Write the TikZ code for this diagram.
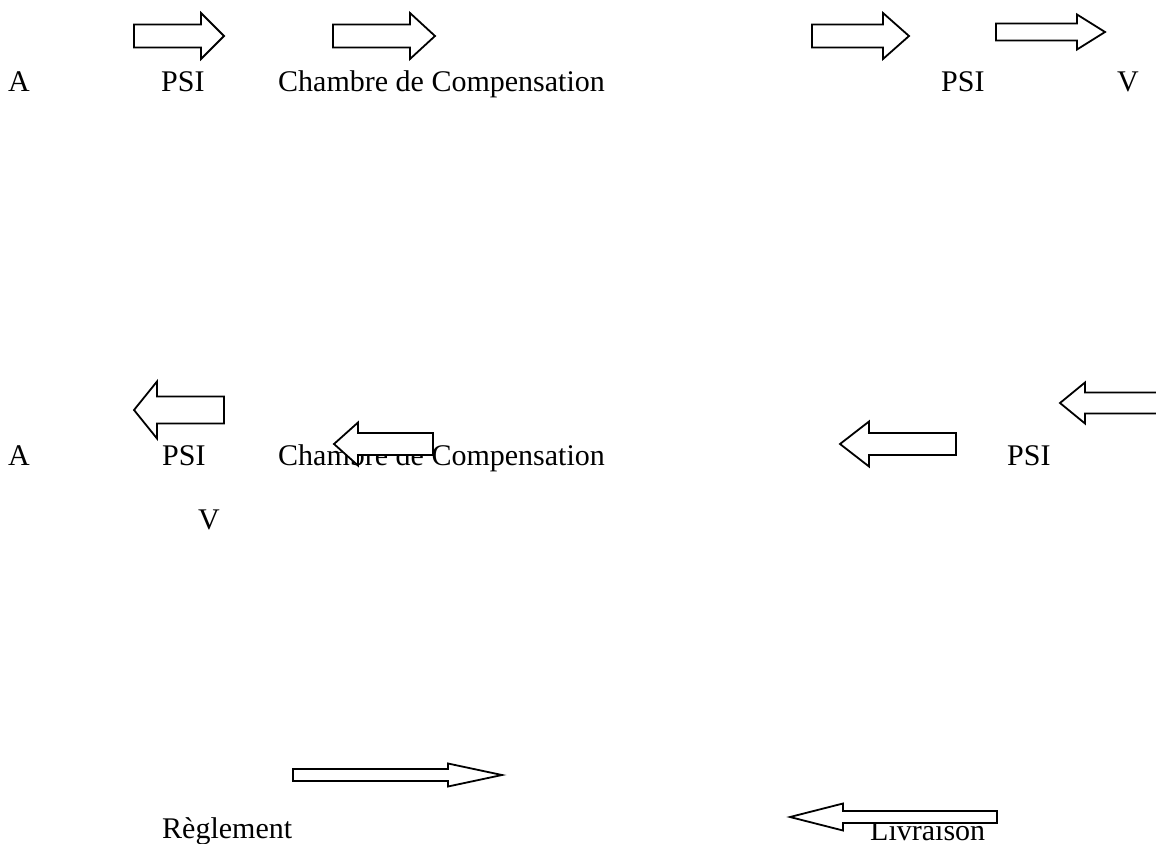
\documentclass[tikz,border=0pt]{standalone}
\usepackage{fontspec}
\setmainfont{Liberation Serif}
\usepackage{tikz}

\begin{document}
\begin{tikzpicture}[x=1pt, y=-1pt,
    txt/.style={anchor=base west, inner sep=0pt, font=\fontsize{30}{36}\selectfont},
    blockarrow/.style={draw, fill=white, line width=1.8pt, line join=miter}]
  \clip (0,0) rectangle (1156,843);
  \fill[white] (0,0) rectangle (1156,843);
  % first line
  \node[txt] (a1) at (8,91) {A};
  \node[txt] (psi1) at (161,91) {PSI};
  \node[txt] (chambre1) at (278,91) {Chambre de Compensation};
  \node[txt] (psi2) at (941,91) {PSI};
  \node[txt] (v1) at (1117,91) {V};
  % second line
  \node[txt] (a2) at (8,465) {A};
  \node[txt] (psi3) at (162,465) {PSI};
  \node[txt] (chambre2) at (278,465) {Chambre de Compensation};
  \node[txt] (psi4) at (1007,465) {PSI};
  \node[txt] (v2) at (198,529) {V};
  % third line
  \node[txt] (reglement) at (162,838) {Règlement};
  \node[txt] (livraison) at (870,840) {Livraison};
  % tail/head base/tip/middle/half body/half head
  \foreach \a/\b/\c/\m/\h/\H in {134/201/224/36/11.5/23, 333/410/435/36/11.5/23,
                                  812/883/909/36/11.5/23, 996/1077/1105/32/8.5/17.5,
                                  224/157/134/410/13.5/28.5, 433/358/334/444/11/21.5,
                                  956/869/840/444/11/22.5, 1180/1085/1060/403/10.5/20.5,
                                  293/448/502/775/6/11.5, 997/843/790/817/6/13.5}{
    \draw[blockarrow] (\a,\m-\h) -- (\b,\m-\h) -- (\b,\m-\H) -- (\c,\m)
      -- (\b,\m+\H) -- (\b,\m+\h) -- (\a,\m+\h) -- cycle;
  }
\end{tikzpicture}
\end{document}
